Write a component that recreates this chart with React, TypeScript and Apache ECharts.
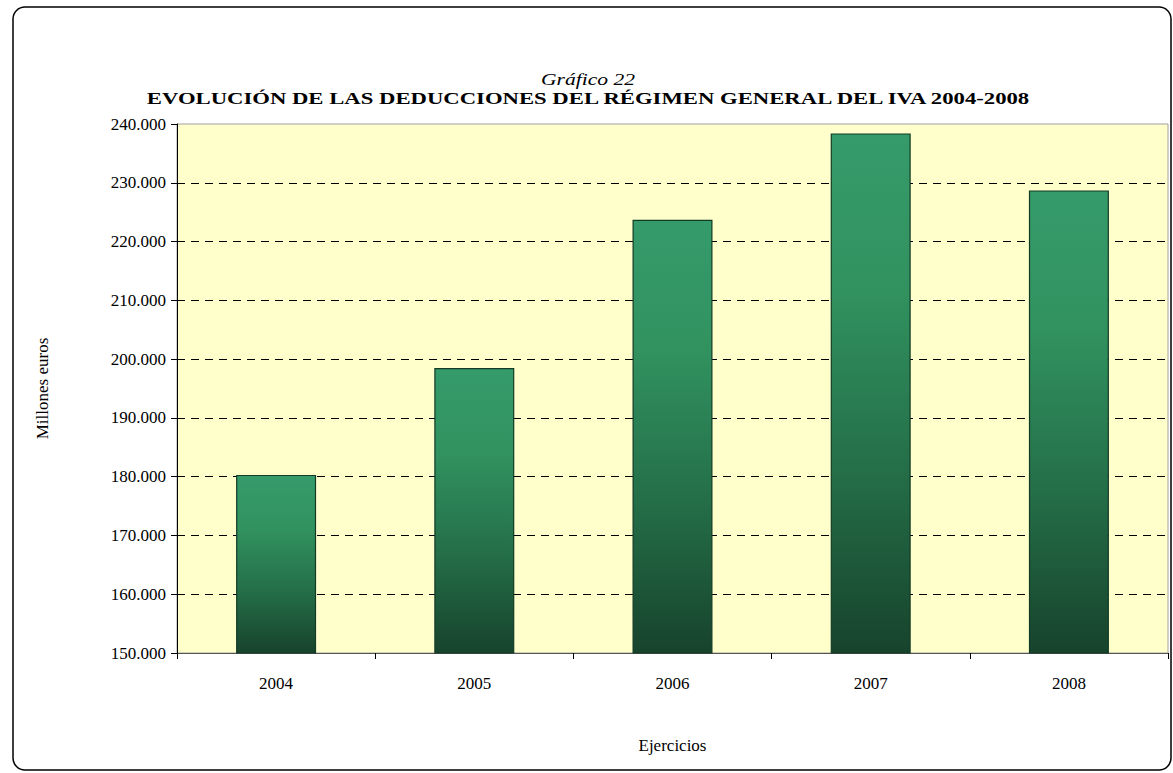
import React, { useEffect, useRef } from "react";
import * as echarts from "echarts";

const categories = ["2004", "2005", "2006", "2007", "2008"];
const deducciones = [180300, 198500, 223700, 238400, 228700];
const yMin = 150000;
const yMax = 240000;
const yStep = 10000;
const titleTop = "Gráfico 22";
const titleMain = "EVOLUCIÓN DE LAS DEDUCCIONES DEL RÉGIMEN GENERAL DEL IVA 2004-2008";
const yName = "Millones euros";
const xName = "Ejercicios";

const FONT = '"Liberation Serif", "Times New Roman", serif';

function fmt(v: number) {
  const s = Math.round(v).toString();
  return s.replace(/\B(?=(\d{3})+(?!\d))/g, ".");
}

export default function App() {
  const ref = useRef<HTMLDivElement>(null);
  useEffect(() => {
    if (!ref.current) return;
    const chart = echarts.init(ref.current, undefined, { renderer: "svg" });
    const nLines = Math.round((yMax - yMin) / yStep) + 1;
    const splitColors: string[] = [];
    for (let i = 0; i < nLines; i++) {
      splitColors.push(i === 0 || i === nLines - 1 ? "rgba(0,0,0,0)" : "#000000");
    }
    chart.setOption({
      animation: false,
      backgroundColor: "#ffffff",
      textStyle: { fontFamily: FONT },
      graphic: [
        {
          type: "rect",
          shape: { x: 13, y: 7, width: 1158, height: 763, r: 12 },
          style: { fill: "none", stroke: "#000", lineWidth: 1.5 },
          z: -1,
        },
        {
          type: "text",
          x: 588,
          y: 80,
          scaleX: 1.35,
          style: {
            text: titleTop,
            align: "center",
            verticalAlign: "middle",
            font: 'italic 16px "Liberation Serif", serif',
            fill: "#000",
          },
        },
        {
          type: "text",
          x: 588,
          y: 98,
          scaleX: 1.42,
          style: {
            text: titleMain,
            align: "center",
            verticalAlign: "middle",
            font: 'bold 16px "Liberation Serif", serif',
            fill: "#000",
          },
        },
      ],
      grid: {
        left: 177,
        right: 5,
        top: 124,
        bottom: 120,
        show: true,
        backgroundColor: "#FFFFCC",
        borderColor: "#a0a0a0",
        borderWidth: 1,
      },
      xAxis: {
        type: "category",
        data: categories,
        name: xName,
        nameLocation: "middle",
        nameGap: 84,
        nameTextStyle: { fontFamily: FONT, fontSize: 17, color: "#000" },
        axisLine: { show: true, lineStyle: { color: "#555", width: 1 } },
        axisTick: { show: true, length: 6, lineStyle: { color: "#000" } },
        axisLabel: { fontFamily: FONT, fontSize: 17, color: "#000", margin: 22 },
      },
      yAxis: {
        type: "value",
        min: yMin,
        max: yMax,
        interval: yStep,
        name: yName,
        nameLocation: "middle",
        nameGap: 126,
        nameRotate: 90,
        nameTextStyle: { fontFamily: FONT, fontSize: 17, color: "#000" },
        axisLine: { show: true, lineStyle: { color: "#000", width: 1 } },
        axisTick: { show: true, length: 6, lineStyle: { color: "#000" } },
        axisLabel: { fontFamily: FONT, fontSize: 17, color: "#000", margin: 11, formatter: (v: number) => fmt(v) },
        splitLine: { show: true, lineStyle: { color: splitColors, type: [8, 6], width: 1 } },
      },
      series: [
        {
          type: "bar",
          data: deducciones,
          barWidth: 80,
          itemStyle: {
            borderColor: "#123a25",
            borderWidth: 1.2,
            color: new echarts.graphic.LinearGradient(0, 0, 0, 1, [
              { offset: 0, color: "#359b6a" },
              { offset: 0.3, color: "#31925f" },
              { offset: 0.65, color: "#246e48" },
              { offset: 1, color: "#17432c" },
            ]),
          },
        },
      ],
    });
    return () => chart.dispose();
  }, []);
  return (
    <div
      ref={ref}
      style={{ position: "fixed", left: 0, top: 0, width: 1173, height: 773 }}
    />
  );
}
